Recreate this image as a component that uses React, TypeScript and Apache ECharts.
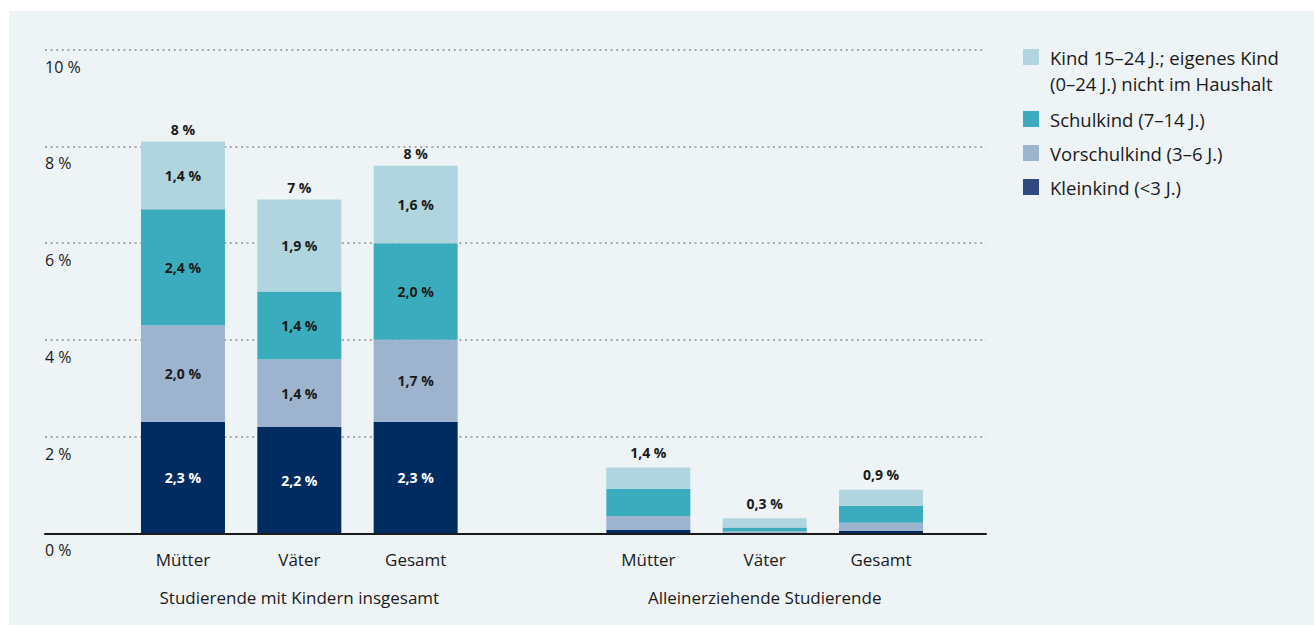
import React, { useEffect, useRef } from "react";
import * as echarts from "echarts";

// ---- data ----
const categories = ["Mütter", "Väter", "Gesamt", "", "Mütter", "Väter", "Gesamt"];
const groupLabels = ["", "Studierende mit Kindern insgesamt", "", "", "", "Alleinerziehende Studierende", ""];

const kleinkind = [2.3, 2.2, 2.3, null, 0.07, 0.01, 0.05];
const vorschulkind = [2.0, 1.4, 1.7, null, 0.29, 0.03, 0.17];
const schulkind = [2.4, 1.4, 2.0, null, 0.56, 0.08, 0.35];
const kind15 = [1.4, 1.9, 1.6, null, 0.44, 0.19, 0.33];

const totalDecimals = [0, 0, 0, null, 1, 1, 1];
const showSegmentLabels = [true, true, true, false, false, false, false];

const yMin = 0;
const yMax = 10;
const yInterval = 2;

const seriesNames = {
  klein: "Kleinkind (<3 J.)",
  vor: "Vorschulkind (3–6 J.)",
  schul: "Schulkind (7–14 J.)",
  kind: "Kind 15–24 J.; eigenes Kind (0–24 J.) nicht im Haushalt",
};
const kindLines = ["Kind 15–24 J.; eigenes Kind", "(0–24 J.) nicht im Haushalt"];

const TEXT = "#1a1a1a";
const FONT = "Open Sans";
const LEGEND_SIZE = 18.5;

const fmt = (v: number, d: number) => v.toFixed(d).replace(".", ",") + " %";

export default function App() {
  const ref = useRef<HTMLDivElement>(null);

  useEffect(() => {
    if (!ref.current) return;
    const chart = echarts.init(ref.current, undefined, { renderer: "svg" });

    const totals = categories.map((_, i) =>
      kleinkind[i] == null
        ? null
        : (kleinkind[i] as number) + (vorschulkind[i] as number) + (schulkind[i] as number) + (kind15[i] as number)
    );

    const defs = [
      { name: seriesNames.klein, data: kleinkind, color: "#002c61", labelColor: "#ffffff" },
      { name: seriesNames.vor, data: vorschulkind, color: "#9db3ce", labelColor: TEXT },
      { name: seriesNames.schul, data: schulkind, color: "#3aacbd", labelColor: TEXT },
      { name: seriesNames.kind, data: kind15, color: "#b1d5de", labelColor: TEXT },
    ];

    const barSeries = defs.map((d) => ({
      name: d.name,
      type: "bar",
      stack: "total",
      xAxisIndex: 1,
      yAxisIndex: 1,
      barWidth: 84,
      itemStyle: { color: d.color },
      label: {
        show: true,
        position: "inside",
        color: d.labelColor,
        fontFamily: FONT,
        fontWeight: "bold",
        fontSize: 14,
        formatter: (p: any) => fmt(p.value, 1),
      },
      data: d.data.map((v, i) =>
        v == null ? "-" : { value: v, label: { show: showSegmentLabels[i] } }
      ),
    }));

    const totalSeries = {
      name: "Summe",
      type: "bar",
      stack: "total",
      xAxisIndex: 1,
      yAxisIndex: 1,
      barWidth: 84,
      silent: true,
      itemStyle: { color: "transparent" },
      label: {
        show: true,
        position: "top",
        color: TEXT,
        fontFamily: FONT,
        fontWeight: "bold",
        fontSize: 14,
        formatter: (p: any) => {
          const t = totals[p.dataIndex];
          const d = totalDecimals[p.dataIndex];
          return t == null || d == null ? "" : fmt(t, d);
        },
      },
      data: totals.map((t, i) =>
        t == null ? "-" : { value: 0, label: { distance: showSegmentLabels[i] ? 5 : 8 } }
      ),
    };

    const option: any = {
      animation: false,
      backgroundColor: "#eef3f6",
      textStyle: { fontFamily: FONT },
      grid: [
        { left: 36, right: 328, top: 38.7, bottom: 91.7 },
        { left: 115.8, right: 374.8, top: 38.7, bottom: 91.7 },
      ],
      legend: {
        orient: "vertical",
        left: 1014,
        top: 6,
        padding: 0,
        itemWidth: 16,
        itemHeight: 16,
        itemGap: 10,
        icon: "rect",
        selectedMode: false,
        textStyle: {
          fontFamily: FONT,
          fontSize: LEGEND_SIZE,
          lineHeight: 24,
          color: TEXT,
          padding: [0, 0, 0, 6],
          rich: {
            e: { fontFamily: FONT, fontSize: LEGEND_SIZE, lineHeight: 28, color: TEXT },
            a: { fontFamily: FONT, fontSize: LEGEND_SIZE, lineHeight: 24, color: TEXT },
          },
        },
        formatter: (name: string) =>
          name === seriesNames.kind
            ? "{e| }\n{a|" + kindLines[0] + "}\n{e|" + kindLines[1] + "}"
            : name,
        data: [
          { name: seriesNames.kind },
          { name: seriesNames.schul },
          { name: seriesNames.vor },
          { name: seriesNames.klein, itemStyle: { color: "#30497f" } },
        ],
      },
      xAxis: [
        {
          gridIndex: 0,
          type: "value",
          min: 0,
          max: 1,
          z: 5,
          axisLine: { show: true, onZero: false, lineStyle: { color: TEXT, width: 2 } },
          axisTick: { show: false },
          axisLabel: { show: false },
          splitLine: { show: false },
        },
        {
          gridIndex: 1,
          type: "category",
          position: "bottom",
          data: categories,
          axisLine: { show: false },
          axisTick: { show: false },
          splitLine: { show: false },
          axisLabel: { interval: 0, margin: 16, fontSize: 17, lineHeight: 20, color: TEXT, fontFamily: FONT },
        },
        {
          gridIndex: 1,
          type: "category",
          position: "bottom",
          data: groupLabels,
          axisLine: { show: false },
          axisTick: { show: false },
          splitLine: { show: false },
          axisLabel: { interval: 0, margin: 54, fontSize: 17, lineHeight: 20, color: TEXT, fontFamily: FONT },
        },
      ],
      yAxis: [
        {
          gridIndex: 0,
          type: "value",
          min: yMin,
          max: yMax,
          interval: yInterval,
          axisLine: { show: false },
          axisTick: { show: false },
          splitLine: { show: true, lineStyle: { type: [2, 3.6], color: "#8c9196", width: 1.5 } },
          axisLabel: {
            inside: true,
            margin: 0,
            formatter: "{value} %",
            verticalAlign: "top",
            lineHeight: 20,
            padding: [7, 0, 0, 0],
            fontSize: 16,
            color: TEXT,
            fontFamily: FONT,
          },
        },
        { gridIndex: 1, type: "value", min: yMin, max: yMax, interval: yInterval, show: false },
      ],
      series: [...barSeries, totalSeries],
    };

    chart.setOption(option);
    return () => chart.dispose();
  }, []);

  return (
    <div style={{ position: "fixed", left: 0, top: 0, width: 1314, height: 625, background: "#ffffff" }}>
      <div ref={ref} style={{ position: "absolute", left: 9, top: 11, width: 1305, height: 614 }} />
    </div>
  );
}
